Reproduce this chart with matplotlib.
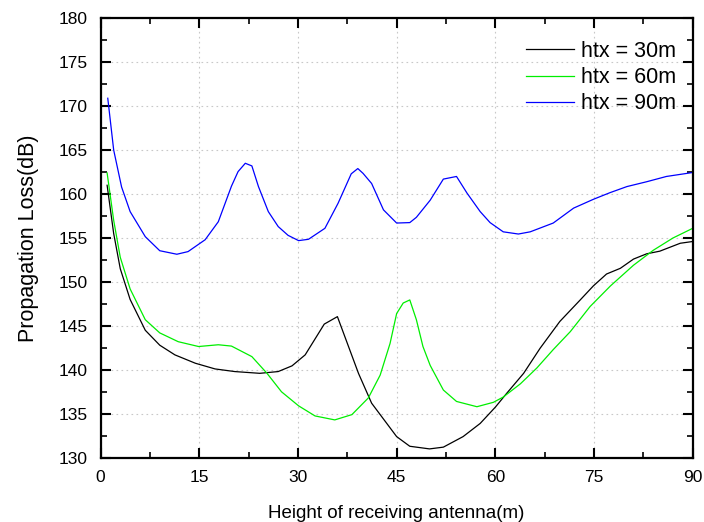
import matplotlib
matplotlib.use("Agg")
import matplotlib.pyplot as plt
from matplotlib.ticker import MultipleLocator

plt.rcParams['font.family'] = ['Liberation Sans', 'DejaVu Sans']

# htx = 30 m
x30 = [1, 2, 3, 4.5, 6.8, 9.0, 11.3, 14.4, 17.4, 20.4, 24.2, 27.0, 29.1, 31.1, 34.0, 36.0,
       39.2, 41.2, 42.5, 45.0, 47.0, 50.0, 52.1, 55.1, 57.7, 60.0, 61.7, 64.3, 66.8, 69.8,
       72.9, 74.9, 76.9, 79.0, 81.0, 83.0, 85.0, 88.1, 90.0]
y30 = [161.0, 155.5, 151.5, 148.0, 144.5, 142.8, 141.7, 140.75, 140.1, 139.8, 139.6, 139.8, 140.45,
       141.7, 145.2, 146.05, 139.6, 136.2, 134.9, 132.4, 131.3, 131.0, 131.2, 132.4, 133.9, 135.75,
       137.3, 139.6, 142.45, 145.5, 147.95, 149.55, 150.9, 151.55, 152.6, 153.2, 153.5, 154.4, 154.6]

# htx = 60 m
x60 = [1, 2, 3, 4.5, 6.8, 9.0, 11.8, 14.9, 17.9, 19.9, 23.0, 25.3, 27.5, 30.1, 32.6, 35.6,
       38.2, 40.7, 42.5, 44.0, 45.0, 46.0, 47.0, 48.0, 49.0, 50.1, 52.1, 54.1, 57.2, 59.7,
       61.2, 63.8, 66.3, 68.8, 71.4, 74.4, 77.5, 81.0, 84.0, 87.0, 90.0]
y60 = [162.4, 157.0, 152.8, 149.2, 145.7, 144.2, 143.2, 142.65, 142.85, 142.7, 141.5, 139.6,
       137.5, 135.9, 134.75, 134.3, 134.9, 136.8, 139.4, 143.0, 146.4, 147.6, 147.95, 145.7,
       142.65, 140.5, 137.7, 136.4, 135.8, 136.3, 136.9, 138.4, 140.2, 142.3, 144.35, 147.2,
       149.55, 151.9, 153.6, 155.0, 156.1]

# htx = 90 m
x90 = [1.1, 2.0, 3.2, 4.5, 6.8, 9.0, 11.6, 13.3, 15.9, 17.9, 19.9, 20.9, 22.0, 23.0, 24.0,
       25.5, 27.0, 28.5, 30.1, 31.6, 34.1, 36.1, 38.1, 39.1, 39.9, 41.2, 43.0, 45.0, 47.0,
       48.0, 50.1, 52.1, 54.1, 55.7, 57.7, 59.2, 61.2, 63.5, 65.3, 68.8, 71.9, 74.9, 77.4,
       80.0, 83.0, 86.0, 90.0]
y90 = [170.9, 165.0, 160.8, 158.0, 155.15, 153.55, 153.15, 153.45, 154.8, 156.85, 160.9,
       162.55, 163.5, 163.2, 160.85, 158.0, 156.3, 155.3, 154.7, 154.85, 156.1, 158.95, 162.3,
       162.9, 162.35, 161.2, 158.2, 156.7, 156.75, 157.35, 159.3, 161.7, 162.0, 160.1, 158.0,
       156.75, 155.7, 155.45, 155.7, 156.7, 158.4, 159.4, 160.15, 160.85, 161.4, 162.0, 162.45]

labels = ['htx = 30m', 'htx = 60m', 'htx = 90m']
colors = ['#000000', '#00ee00', '#0000ff']

fig = plt.figure(figsize=(7.04, 5.22), dpi=100)
ax = fig.add_axes([0.1428, 0.1232, 0.8412, 0.8418])

ax.plot(x30, y30, color=colors[0], lw=0.9, label=labels[0])
ax.plot(x60, y60, color=colors[1], lw=0.9, label=labels[1])
ax.plot(x90, y90, color=colors[2], lw=0.9, label=labels[2])

ax.set_xlim(0, 90)
ax.set_ylim(130, 180)
ax.xaxis.set_major_locator(MultipleLocator(15))
ax.xaxis.set_minor_locator(MultipleLocator(7.5))
ax.yaxis.set_major_locator(MultipleLocator(5))
ax.yaxis.set_minor_locator(MultipleLocator(2.5))
ax.tick_params(which='both', direction='in', top=True, right=True, labeltop=False, labelright=False)
ax.tick_params(which='major', length=7, width=1.5, labelsize=12.5, pad=9)
ax.tick_params(which='minor', length=4, width=1.2)
for s in ax.spines.values():
    s.set_linewidth(1.6)
ax.grid(True, which='major', color='#c8c8c8', linestyle=(0, (1.5, 3)), linewidth=0.8)

ax.set_xlabel('Height of receiving antenna(m)', fontsize=13.5, labelpad=14)
ax.set_ylabel('Propagation Loss(dB)', fontsize=15.5, labelpad=14)

leg = ax.legend(loc='upper right', bbox_to_anchor=(1.004, 0.993), frameon=False,
                fontsize=15.5, handlelength=2.2, handletextpad=0.33, labelspacing=0.25)

fig.savefig('out.png', dpi=100)
